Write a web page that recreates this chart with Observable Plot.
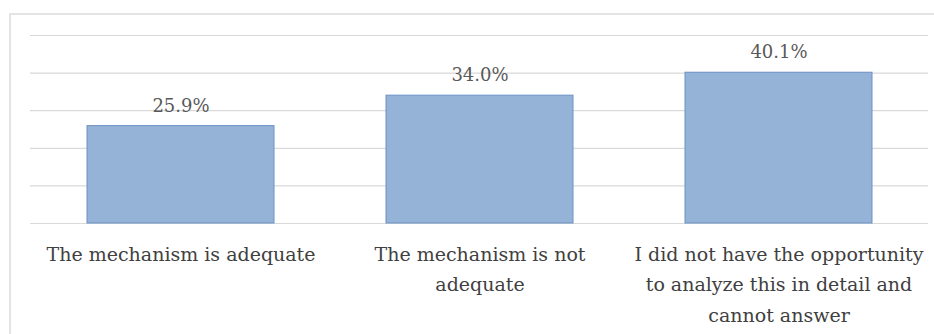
<!DOCTYPE html>
<html>
<head>
<meta charset="utf-8">
<script src="https://cdn.jsdelivr.net/npm/d3@7"></script>
<script src="https://cdn.jsdelivr.net/npm/@observablehq/plot@0.6"></script>
<style>
  html, body { margin: 0; padding: 0; background: #ffffff; }
  #frame {
    position: relative;
    width: 934px;
    height: 334px;
    overflow: hidden;
  }
  #border {
    position: absolute;
    left: 9px;
    top: 13px;
    width: 1000px;
    height: 400px;
    border: 2px solid #e4e4e4;
    box-sizing: border-box;
  }
  #chart { position: absolute; left: 0; top: 0; }
  #chart svg, #chart svg text { font-family: "DejaVu Serif", serif !important; }
</style>
</head>
<body>
<div id="frame">
  <div id="border"></div>
  <div id="chart"></div>
</div>
<script>
// Survey answers and their shares (%)
const categories = [
  "The mechanism is adequate",
  "The mechanism is not\nadequate",
  "I did not have the opportunity\nto analyze this in detail and\ncannot answer"
];
const shares = [25.9, 34.0, 40.1];
const valueLabels = ["25.9%", "34.0%", "40.1%"];
const gridTicks = [0, 10, 20, 30, 40, 50];

const rows = categories.map((c, i) => ({category: c, share: shares[i], label: valueLabels[i]}));

const chart = Plot.plot({
  width: 934,
  height: 334,
  marginLeft: 30,
  marginRight: 6,
  marginTop: 35,
  marginBottom: 111,
  style: {
    background: "transparent",
    overflow: "visible"
  },
  x: {domain: categories, paddingInner: 0.375, paddingOuter: 0.1875, label: null},
  y: {domain: [0, 50], label: null},
  marks: [
    Plot.ruleY(gridTicks, {stroke: "#d9d9d9", strokeWidth: 1.2}),
    Plot.barY(rows, {
      x: "category",
      y: "share",
      fill: "#95b3d7",
      stroke: "#6b91c4",
      strokeWidth: 1
    }),
    Plot.text(rows, {
      x: "category",
      y: "share",
      text: "label",
      dy: -20,
      lineAnchor: "middle",
      fontSize: 18,
      fill: "#595959"
    }),
    Plot.axisX({
      className: "x-labels",
      tickSize: 0,
      tickPadding: 16,
      fontSize: 19,
      lineHeight: 1.6,
      fill: "#404040",
      label: null
    }),
    Plot.axisY({ticks: [], label: null})
  ]
});

document.getElementById("chart").appendChild(chart);
</script>
</body>
</html>
